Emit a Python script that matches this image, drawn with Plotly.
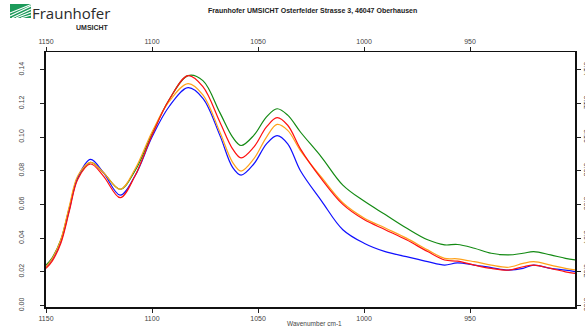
import plotly.graph_objects as go

wavenumber = [1150, 1147, 1143, 1139, 1135, 1129, 1123, 1115, 1108, 1100, 1092, 1083, 1076,
              1068, 1062, 1058, 1052, 1046, 1041, 1036, 1030, 1020, 1010, 1000, 990,
              980, 970, 962, 956, 948, 940, 932, 925, 920, 912, 905, 900]

green = [0.024, 0.0285, 0.039, 0.058, 0.076, 0.085, 0.079, 0.069, 0.080, 0.102, 0.122, 0.1365, 0.1335,
         0.1145, 0.100, 0.095, 0.101, 0.112, 0.1168, 0.113, 0.103, 0.088, 0.0715, 0.062, 0.054,
         0.046, 0.039, 0.036, 0.0362, 0.034, 0.031, 0.030, 0.031, 0.032, 0.030, 0.028, 0.027]

red = [0.022, 0.0265, 0.037, 0.056, 0.075, 0.084, 0.077, 0.064, 0.077, 0.101, 0.122, 0.1365, 0.130,
       0.109, 0.093, 0.0876, 0.094, 0.106, 0.1115, 0.107, 0.093, 0.075, 0.060, 0.051, 0.045,
       0.039, 0.032, 0.027, 0.0263, 0.024, 0.022, 0.021, 0.023, 0.024, 0.022, 0.020, 0.019]

orange = [0.023, 0.028, 0.039, 0.059, 0.077, 0.085, 0.079, 0.069, 0.081, 0.103, 0.121, 0.1317, 0.125,
          0.103, 0.085, 0.0798, 0.087, 0.100, 0.1075, 0.104, 0.092, 0.076, 0.061, 0.052, 0.046,
          0.040, 0.033, 0.028, 0.0277, 0.026, 0.024, 0.0227, 0.025, 0.026, 0.024, 0.022, 0.021]

blue = [0.023, 0.0275, 0.038, 0.057, 0.076, 0.0867, 0.079, 0.0655, 0.077, 0.100, 0.118, 0.1293, 0.123,
        0.101, 0.082, 0.0774, 0.084, 0.096, 0.1009, 0.096, 0.080, 0.062, 0.045, 0.037, 0.032,
        0.029, 0.026, 0.024, 0.0253, 0.024, 0.0225, 0.021, 0.022, 0.024, 0.022, 0.021, 0.020]

x_ticks = [1150, 1100, 1050, 1000, 950]
y_ticks = [0.00, 0.02, 0.04, 0.06, 0.08, 0.10, 0.12, 0.14]
y_labels = ["0.00", "0.02", "0.04", "0.06", "0.08", "0.10", "0.12", "0.14"]

title_text = "Fraunhofer UMSICHT Osterfelder Strasse 3, 46047 Oberhausen"
x_title = "Wavenumber cm-1"

W, H = 585, 331
L, R, T, B = 46, 10, 52, 24
PW, PH = W - L - R, H - T - B


def px(x):
    return (x - L) / PW


def py(y):
    return (H - B - y) / PH


font = "Liberation Sans, Arial, sans-serif"
fig = go.Figure()
series = [("green", green, "#138a13"), ("blue", blue, "#1010ff"),
          ("orange", orange, "#ffa21a"), ("red", red, "#ff1010")]
for name, vals, col in series:
    fig.add_trace(go.Scatter(x=wavenumber, y=vals, mode="lines", name=name,
                             line=dict(color=col, width=1.2, shape="spline", smoothing=1.0),
                             showlegend=False))
# invisible trace for top / right axes
fig.add_trace(go.Scatter(x=[1150], y=[0], xaxis="x2", yaxis="y2", mode="markers",
                         marker=dict(opacity=0), showlegend=False, hoverinfo="skip"))

xr = [1150, 900.5]
yr = [-0.0009, 0.1505]
tickfont = dict(family=font, size=7, color="#444")
common_x = dict(range=xr, tickvals=x_ticks, ticktext=[str(v) for v in x_ticks],
                ticks="outside", ticklen=4, tickcolor="#222", showgrid=False, zeroline=False,
                showline=True, linecolor="#111", tickfont=tickfont, automargin=False)
common_y = dict(range=yr, tickvals=y_ticks, ticktext=y_labels, ticks="outside", ticklen=4,
                tickcolor="#222", showgrid=False, zeroline=False, showline=True,
                linecolor="#111", linewidth=1.5, tickfont=tickfont, automargin=False)

fig.update_layout(
    width=W, height=H, margin=dict(l=L, r=R, t=T, b=B, autoexpand=False),
    paper_bgcolor="white", plot_bgcolor="white",
    xaxis=dict(**common_x, side="bottom", linewidth=1.6),
    xaxis2=dict(**common_x, side="top", overlaying="x", anchor="y", linewidth=1),
    yaxis=dict(**common_y, side="left", tickangle=-90, ticklabelstandoff=13),
    yaxis2=dict(**common_y, side="right", overlaying="y", anchor="x", tickangle=90),
)

annotations = [
    dict(x=px(312), y=py(11), xref="paper", yref="paper", text="<b>" + title_text + "</b>",
         showarrow=False, font=dict(family=font, size=7, color="#222"), xanchor="center",
         yanchor="middle"),
    dict(x=px(314), y=py(323), xref="paper", yref="paper", text=x_title, showarrow=False,
         font=dict(family=font, size=6.5, color="#444"), xanchor="center", yanchor="middle"),
    dict(x=px(30), y=py(13), xref="paper", yref="paper", text="Fraunhofer", showarrow=False,
         font=dict(family="Open Sans, Arial, sans-serif", size=15, color="#2a2a2a"),
         xanchor="left", yanchor="middle"),
    dict(x=px(111), y=py(28), xref="paper", yref="paper", text="<b>UMSICHT</b>", showarrow=False,
         font=dict(family=font, size=7, color="#2a2a2a"), xanchor="right", yanchor="middle"),
]
fig.update_layout(annotations=annotations)

shapes = [dict(type="rect", xref="paper", yref="paper", x0=px(10), x1=px(31), y0=py(18),
               y1=py(4), fillcolor="#1c9a5a", line=dict(width=0), layer="above")]
# white stripes of logo
stripes = [((10, 16), (31, 6)), ((10, 13), (31, 4.5)), ((12, 18), (31, 9)),
           ((16, 18), (31, 12)), ((21, 18), (31, 15))]
for (a, b) in stripes:
    shapes.append(dict(type="line", xref="paper", yref="paper", x0=px(a[0]), y0=py(a[1]),
                       x1=px(b[0]), y1=py(b[1]), line=dict(color="white", width=1.2),
                       layer="above"))
fig.update_layout(shapes=shapes)

fig.write_html("out.html", config={"displayModeBar": False},
               post_script="document.body.style.margin='0px';")
